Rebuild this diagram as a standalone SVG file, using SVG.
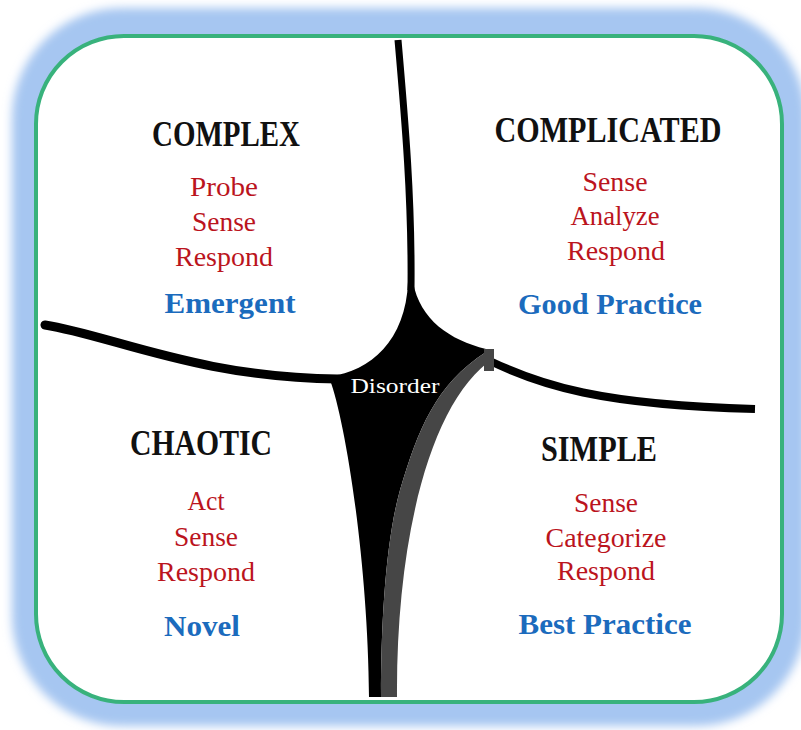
<svg xmlns="http://www.w3.org/2000/svg" width="801" height="730" viewBox="0 0 801 730">
  <defs>
    <filter id="glow" x="-10%" y="-10%" width="120%" height="120%">
      <feGaussianBlur stdDeviation="5"/>
    </filter>
    <style>
      .title { font-family: "Liberation Serif", "DejaVu Serif", serif; font-weight: bold; font-size: 35px; fill: #111; text-anchor: middle; }
      .step { font-family: "Liberation Serif", "DejaVu Serif", serif; font-size: 27px; fill: #bb141d; text-anchor: middle; }
      .mode { font-family: "Liberation Serif", "DejaVu Serif", serif; font-weight: bold; font-size: 30px; fill: #1b6bbd; text-anchor: middle; }
      .line { fill: none; stroke: #000; }
    </style>
  </defs>

  <!-- frame: soft blue halo, white panel with green rim -->
  <g id="frame">
    <rect x="12" y="8" width="794" height="718" rx="110" fill="#a6c6f1" filter="url(#glow)"/>
    <rect x="36" y="36" width="746" height="666" rx="88" fill="#fff" stroke="#38b27c" stroke-width="4"/>
  </g>

  <!-- domain boundaries -->
  <g id="connectors">
    <path class="line" d="M398,40 C405,120 412,200 411,290" stroke-width="7"/>
    <path class="line" d="M45,325 C110,335 200,378 338,379" stroke-width="9" stroke-linecap="round"/>
    <path class="line" d="M490,361 C540,385 600,405 755,409" stroke-width="8"/>
  </g>

  <!-- central disorder region -->
  <g id="disorder">
    <path fill="#000" d="M408,282 C406,340 370,372 330,376 L330,380 C345,420 368,560 369,697 L381,697 C381,620 386,540 400,490 C418,430 435,385 486,352 L486,349 C450,340 420,320 413,282 Z"/>
    <path fill="#464646" d="M381,697 C381,620 386,540 400,490 C418,430 435,385 486,352 L494,351 L494,358 C430,400 396,540 397,697 Z"/>
    <rect x="484" y="349" width="10" height="22" fill="#464646"/>
    <text x="395" y="393" font-family="'Liberation Serif', 'DejaVu Serif', serif" font-size="22" fill="#fff" text-anchor="middle" textLength="89" lengthAdjust="spacingAndGlyphs">Disorder</text>
  </g>

  <g id="complex">
    <text class="title" x="226" y="146" textLength="148" lengthAdjust="spacingAndGlyphs">COMPLEX</text>
    <text class="step" x="224" y="196" textLength="68" lengthAdjust="spacingAndGlyphs">Probe</text>
    <text class="step" x="224" y="231" textLength="64" lengthAdjust="spacingAndGlyphs">Sense</text>
    <text class="step" x="224" y="266" textLength="98" lengthAdjust="spacingAndGlyphs">Respond</text>
    <text class="mode" x="230" y="313" textLength="131" lengthAdjust="spacingAndGlyphs">Emergent</text>
  </g>

  <g id="complicated">
    <text class="title" x="608" y="142" textLength="227" lengthAdjust="spacingAndGlyphs">COMPLICATED</text>
    <text class="step" x="615" y="191" textLength="65" lengthAdjust="spacingAndGlyphs">Sense</text>
    <text class="step" x="615" y="225" textLength="89" lengthAdjust="spacingAndGlyphs">Analyze</text>
    <text class="step" x="616" y="260" textLength="98" lengthAdjust="spacingAndGlyphs">Respond</text>
    <text class="mode" x="610" y="314" textLength="184" lengthAdjust="spacingAndGlyphs">Good Practice</text>
  </g>

  <g id="chaotic">
    <text class="title" x="201" y="455" textLength="142" lengthAdjust="spacingAndGlyphs">CHAOTIC</text>
    <text class="step" x="206" y="510" textLength="37" lengthAdjust="spacingAndGlyphs">Act</text>
    <text class="step" x="206" y="546" textLength="64" lengthAdjust="spacingAndGlyphs">Sense</text>
    <text class="step" x="206" y="581" textLength="98" lengthAdjust="spacingAndGlyphs">Respond</text>
    <text class="mode" x="202" y="636" textLength="76" lengthAdjust="spacingAndGlyphs">Novel</text>
  </g>

  <g id="simple">
    <text class="title" x="599" y="461" textLength="116" lengthAdjust="spacingAndGlyphs">SIMPLE</text>
    <text class="step" x="606" y="512" textLength="64" lengthAdjust="spacingAndGlyphs">Sense</text>
    <text class="step" x="606" y="547" textLength="121" lengthAdjust="spacingAndGlyphs">Categorize</text>
    <text class="step" x="606" y="580" textLength="98" lengthAdjust="spacingAndGlyphs">Respond</text>
    <text class="mode" x="605" y="634" textLength="173" lengthAdjust="spacingAndGlyphs">Best Practice</text>
  </g>
</svg>
